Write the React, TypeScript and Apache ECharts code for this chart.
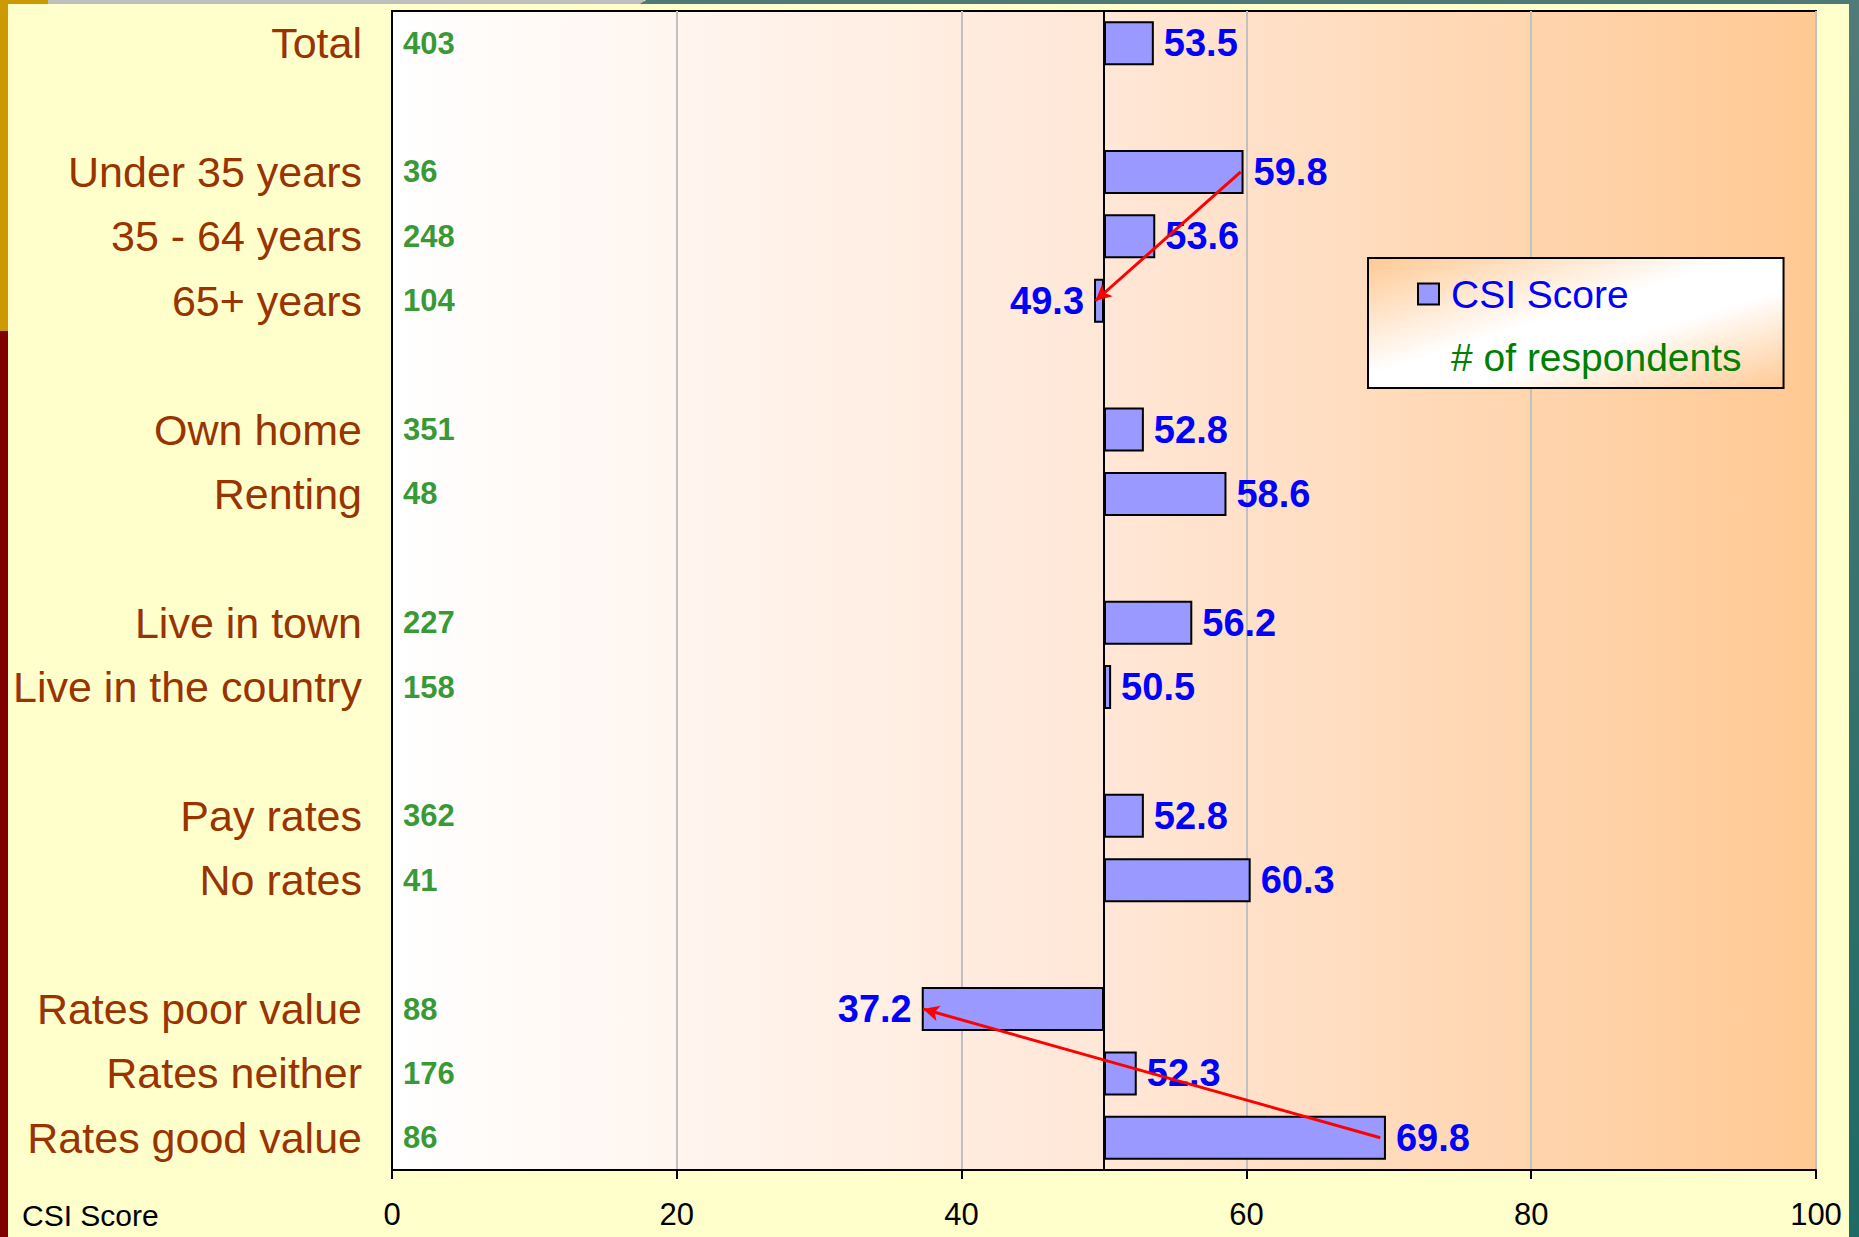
import React, { useEffect, useRef } from 'react';
import * as echarts from 'echarts';

const categories = [
  'Total', '', 'Under 35 years', '35 - 64 years', '65+ years', '',
  'Own home', 'Renting', '', 'Live in town', 'Live in the country', '',
  'Pay rates', 'No rates', '', 'Rates poor value', 'Rates neither', 'Rates good value',
];
const csiScores: (number | null)[] = [
  53.5, null, 59.8, 53.6, 49.3, null,
  52.8, 58.6, null, 56.2, 50.5, null,
  52.8, 60.3, null, 37.2, 52.3, 69.8,
];
const respondents: (number | null)[] = [
  403, null, 36, 248, 104, null,
  351, 48, null, 227, 158, null,
  362, 41, null, 88, 176, 86,
];
const xMin = 0;
const xMax = 100;
const xInterval = 20;
const baseline = 50;
// arrows: [from [value, rowIndex], to [value, rowIndex]]
const arrows: [number, number][][] = [
  [[59.6, 2], [49.4, 4]],
  [[69.4, 17], [37.3, 15]],
];

const FONT = '"Liberation Sans", Arial, sans-serif';

export default function App() {
  const ref = useRef<HTMLDivElement>(null);

  useEffect(() => {
    if (!ref.current) return;
    const chart = echarts.init(ref.current, undefined, { renderer: 'svg' });

    const baseData = csiScores.map((v) => (v == null ? null : Math.min(v, baseline)));
    const barData = csiScores.map((v) =>
      v == null
        ? null
        : {
            value: Math.abs(v - baseline),
            label: { position: v < baseline ? 'left' : 'right' },
          }
    );
    const countData = respondents.map((c, i) => (c == null ? null : [xMin, i, c]));

    const option: any = {
      animation: false,
      backgroundColor: '#FFFFCC',
      textStyle: { fontFamily: FONT },
      graphic: [
        { type: 'rect', shape: { x: 0, y: 0, width: 8, height: 331 }, style: { fill: '#CC9900' }, silent: true },
        { type: 'rect', shape: { x: 0, y: 331, width: 8, height: 906 }, style: { fill: '#800000' }, silent: true },
        { type: 'rect', shape: { x: 0, y: 0, width: 48, height: 4 }, style: { fill: '#CC9900' }, silent: true },
        { type: 'rect', shape: { x: 48, y: 0, width: 596, height: 4 }, style: { fill: '#BDBFBF' }, silent: true },
        { type: 'polygon', shape: { points: [[640, 4], [646, 0], [1859, 0], [1859, 4]] }, style: { fill: '#4F7A78' }, silent: true },
        {
          type: 'rect',
          shape: { x: 1849, y: 0, width: 10, height: 1237 },
          style: {
            fill: new echarts.graphic.LinearGradient(0, 0, 0, 1, [
              { offset: 0, color: '#517B79' },
              { offset: 1, color: '#1E6A65' },
            ]),
          },
          silent: true,
        },
        {
          type: 'text',
          x: 22,
          y: 1215,
          style: {
            text: 'CSI Score',
            font: `30px ${FONT}`,
            fill: '#000000',
            verticalAlign: 'middle',
            align: 'left',
          },
          silent: true,
        },
      ],
      legend: {
        left: 1368,
        top: 258,
        orient: 'vertical',
        padding: [16, 42, 11, 49],
        itemGap: 23,
        itemWidth: 21,
        itemHeight: 21,
        borderColor: '#000000',
        borderWidth: 2,
        backgroundColor: new echarts.graphic.LinearGradient(0, 0, 1, 1, [
          { offset: 0, color: '#FFC993' },
          { offset: 0.45, color: '#FFFFFF' },
          { offset: 0.62, color: '#FFFFFF' },
          { offset: 1, color: '#FFC993' },
        ]),
        textStyle: { fontSize: 39, fontFamily: FONT, lineHeight: 40, padding: [0, 0, 0, 7] },
        selectedMode: false,
        data: [
          {
            name: 'CSI Score',
            icon: 'rect',
            itemStyle: { color: '#9999FF', borderColor: '#000000', borderWidth: 2 },
            textStyle: { color: '#0000FF', fontSize: 39 },
          },
          {
            name: '# of respondents',
            icon: 'rect',
            itemStyle: { color: 'rgba(0,0,0,0)', borderWidth: 0 },
            textStyle: { color: '#008000', fontSize: 39 },
          },
        ],
      },
      grid: {
        left: 392,
        right: 43,
        top: 11,
        bottom: 67,
        show: true,
        borderColor: '#000000',
        borderWidth: 2,
        backgroundColor: new echarts.graphic.LinearGradient(0, 0, 1, 0, [
          { offset: 0, color: '#FFFFFF' },
          { offset: 0.5, color: '#FFE7D7' },
          { offset: 0.8, color: '#FFD5AE' },
          { offset: 1, color: '#FFC993' },
        ]),
      },
      xAxis: {
        type: 'value',
        min: xMin,
        max: xMax,
        interval: xInterval,
        axisLine: { show: true, lineStyle: { color: '#000000', width: 2 } },
        axisTick: { show: true, inside: false, length: 9, lineStyle: { color: '#000000', width: 2 } },
        axisLabel: { color: '#000000', fontSize: 31, margin: 29, fontFamily: FONT },
        splitLine: { show: true, lineStyle: { color: '#C0C0C0', width: 2 } },
      },
      yAxis: {
        type: 'category',
        inverse: true,
        data: categories,
        axisLine: { show: true, lineStyle: { color: '#000000', width: 2 } },
        axisTick: { show: false },
        axisLabel: { color: '#993300', fontSize: 43, margin: 30, fontFamily: FONT, interval: 0 },
        splitLine: { show: false },
      },
      series: [
        {
          name: 'base',
          type: 'bar',
          stack: 'csi',
          barWidth: 44,
          data: baseData,
          itemStyle: { color: 'rgba(0,0,0,0)', borderWidth: 0 },
          silent: true,
          markLine: {
            silent: true,
            symbol: ['none', 'none'],
            label: { show: false },
            lineStyle: { color: '#000000', width: 2, type: 'solid' },
            data: [{ xAxis: baseline }],
          },
        },
        {
          name: 'CSI Score',
          type: 'bar',
          stack: 'csi',
          barWidth: 44,
          data: barData,
          itemStyle: { color: '#9999FF', borderColor: '#000000', borderWidth: 2 },
          label: {
            show: true,
            distance: 10,
            color: '#0000FF',
            fontSize: 38,
            fontWeight: 'bold',
            fontFamily: FONT,
            formatter: (p: any) => {
              const v = csiScores[p.dataIndex];
              return v == null ? '' : v.toFixed(1);
            },
          },
          markLine: {
            silent: true,
            symbol: ['none', 'arrow'],
            symbolSize: [12, 16],
            label: { show: false },
            lineStyle: { color: '#FF0000', width: 3, type: 'solid' },
            data: arrows.map(([a, b]) => [{ coord: a }, { coord: b }]),
          },
        },
        {
          name: '# of respondents',
          type: 'scatter',
          symbolSize: 0,
          data: countData,
          itemStyle: { color: 'rgba(0,0,0,0)' },
          label: {
            show: true,
            position: 'right',
            distance: 11,
            color: '#007F00',
            fontSize: 31,
            fontWeight: 'bold',
            fontFamily: FONT,
            formatter: (p: any) => String(p.value[2]),
          },
          silent: true,
        },
      ],
    };

    chart.setOption(option);
    return () => chart.dispose();
  }, []);

  return (
    <div
      ref={ref}
      style={{ position: 'absolute', left: 0, top: 0, width: 1859, height: 1237 }}
    />
  );
}
